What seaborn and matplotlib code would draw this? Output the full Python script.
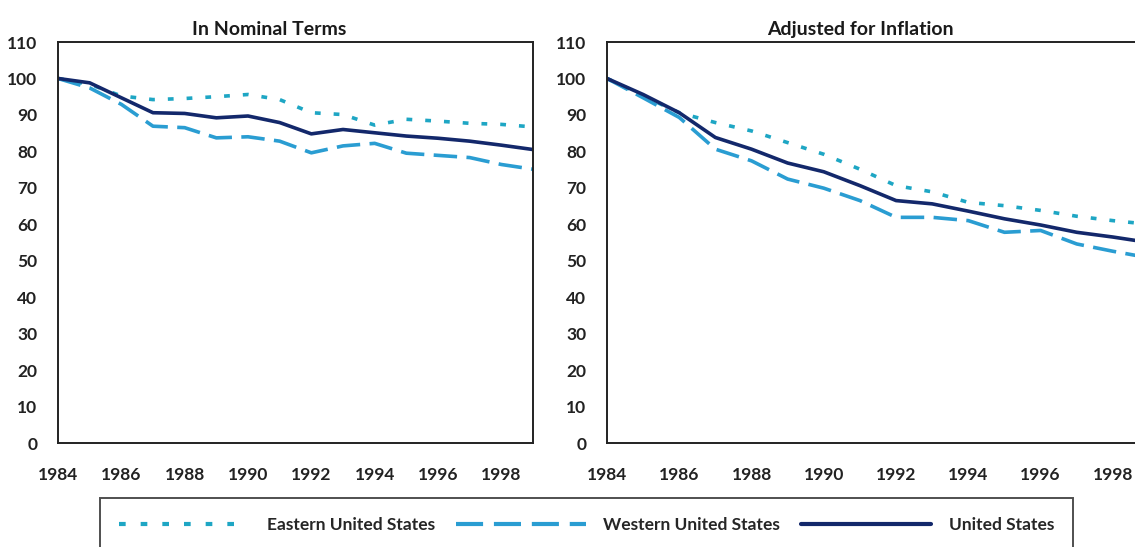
"""Recreate the two-panel index chart (nominal vs. inflation adjusted)."""

import matplotlib
import matplotlib.pyplot as plt
import seaborn as sns
import pandas as pd
matplotlib.use('Agg')

years = list(range(1984, 2000))

# In Nominal Terms (index, 1984 = 100)
nominal_us = [100, 98.8, 94.7, 90.6, 90.4, 89.2, 89.7, 87.9, 84.8, 86.0,
              85.1, 84.2, 83.6, 82.8, 81.7, 80.5]
nominal_west = [100, 97.4, 92.9, 86.9, 86.5, 83.7, 84.0, 82.8, 79.6, 81.5,
                82.2, 79.5, 78.9, 78.3, 76.4, 75.1]
nominal_east = [100, 98.4, 95.2, 94.2, 94.5, 95.0, 95.6, 94.2, 90.6, 90.1,
                87.2, 88.8, 88.3, 87.7, 87.4, 86.7]

# Adjusted for Inflation
real_us = [100, 95.6, 90.6, 83.8, 80.6, 76.8, 74.4, 70.6, 66.5, 65.6,
           63.6, 61.5, 59.8, 57.8, 56.5, 55.0]
real_west = [100, 94.7, 89.3, 80.6, 77.4, 72.4, 69.9, 66.5, 61.9, 61.9,
             61.0, 57.8, 58.3, 54.6, 52.6, 50.8]
real_east = [100, 95.2, 90.6, 87.9, 85.6, 82.4, 79.2, 75.1, 70.6, 68.9,
             66.0, 65.1, 63.8, 62.2, 61.0, 60.0]

series_names = ["Eastern United States", "Western United States", "United States"]
panel_titles = ["In Nominal Terms", "Adjusted for Inflation"]
x_ticks = list(range(1984, 2000, 2))
y_ticks = list(range(0, 111, 10))

colors = {"Eastern United States": "#1ea6c4",
          "Western United States": "#2a9dd2",
          "United States": "#13286b"}
dashes = {"Eastern United States": (1.6, 3.6),
          "Western United States": (6.5, 2.6),
          "United States": ""}


def make_frame(east, west, us):
    """long table for one panel"""
    df = pd.DataFrame({"year": years, series_names[0]: east,
                       series_names[1]: west, series_names[2]: us})
    return df.melt(id_vars="year", var_name="region", value_name="index")


sns.set_theme(style="white")
plt.rcParams['font.family'] = ['Lato', 'DejaVu Sans']
plt.rcParams['font.weight'] = 'bold'

fig = plt.figure(figsize=(11.35, 5.47), dpi=100)
ax1 = fig.add_axes([58 / 1135, 1 - 443 / 547, 475 / 1135, 401 / 547])
ax2 = fig.add_axes([607 / 1135, 1 - 443 / 547, 542 / 1135, 401 / 547])

panels = [make_frame(nominal_east, nominal_west, nominal_us),
          make_frame(real_east, real_west, real_us)]
title_x = [0.445, 0.467]  # titles sit a little left of the axes centre

for ax, df, title, tx in zip([ax1, ax2], panels, panel_titles, title_x):
    sns.lineplot(data=df, x="year", y="index", hue="region", style="region",
                 hue_order=series_names, style_order=series_names,
                 palette=colors, dashes=dashes, linewidth=2.6,
                 legend=(ax is ax1), ax=ax)
    ax.set_xlim(1984, 1999)
    ax.set_ylim(0, 110)
    ax.set_xticks(x_ticks)
    ax.set_yticks(y_ticks)
    ax.set_xlabel("")
    ax.set_ylabel("")
    ax.set_title(title, fontsize=14, fontweight='bold', color="#1a1a1a",
                 pad=5, x=tx)
    ax.tick_params(axis="both", direction="in", length=13, width=1.5,
                   colors="#222222", labelsize=12.5)
    ax.tick_params(axis="y", pad=15)
    ax.tick_params(axis="x", pad=17)
    for lab in ax.get_xticklabels() + ax.get_yticklabels():
        lab.set_fontweight('bold')
    for sp in ax.spines.values():
        sp.set_linewidth(1.4)
        sp.set_color("#222222")

handles, labels = ax1.get_legend_handles_labels()
ax1.get_legend().remove()
for h in handles:
    h.set_linewidth(3.0)
leg = fig.legend(handles, labels, loc="upper left", ncol=3, mode="expand",
                 bbox_to_anchor=(100 / 1135, 1 - 498 / 547 - 0.01, 973 / 1135, 0.01),
                 borderaxespad=0.0,
                 frameon=True, fancybox=False, edgecolor="#222222",
                 handlelength=7.5, handletextpad=1.0, columnspacing=2.0,
                 borderpad=1.1, prop={'weight': 'bold', 'size': 12.5})
leg.get_frame().set_linewidth(1.4)

fig.savefig("out.png", dpi=100)
